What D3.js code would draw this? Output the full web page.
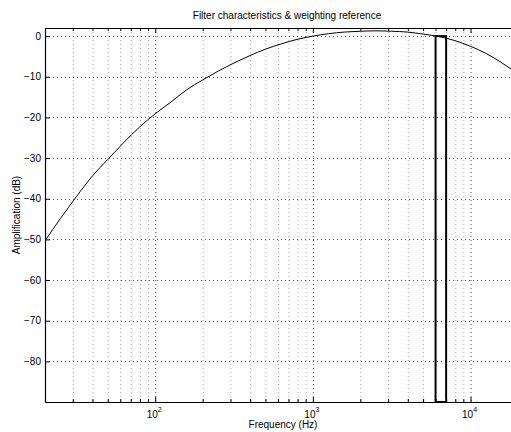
<!DOCTYPE html>
<html>
<head>
<meta charset="utf-8">
<script src="https://cdn.jsdelivr.net/npm/d3@7"></script>
<style>
  body { margin: 0; background: #fff; }
  svg { display: block; font-family: "Liberation Sans", Arial, Helvetica, sans-serif; }
</style>
</head>
<body>
<div id="chart-area"></div>
<script>
// weighting curve (Hz, dB)
var freqs = [19.95, 25.12, 31.62, 39.81, 50.12, 63.1, 79.43, 100, 125.9, 158.5, 199.5, 251.2, 316.2, 398.1, 501.2, 631, 794.3,
  1000, 1259, 1585, 1995, 2512, 3162, 3981, 5012, 6310, 7943, 10000, 12590, 15850, 19950];
var gains = [-50.4, -44.8, -39.5, -34.5, -30.3, -26.2, -22.4, -19.1, -16.2, -13.2, -10.8, -8.6, -6.6, -4.8, -3.2, -1.9, -0.8,
  0, 0.6, 1.0, 1.2, 1.3, 1.2, 1.0, 0.5, -0.1, -1.1, -2.5, -4.3, -6.6, -9.3];

// filter band (rectangle)
var bandFreqs = [6000, 7000];
var bandLevel = 0;

// axes
var xDomain = [20, 20000];
var yDomain = [-90, 2];
var yTicks = [-80, -70, -60, -50, -40, -30, -20, -10, 0];
var xMajor = [100, 1000, 10000];
var xMajorLabels = ['2', '3', '4'];
var xMinor = [30, 40, 50, 60, 70, 80, 90, 200, 300, 400, 500, 600, 700, 800, 900,
  2000, 3000, 4000, 5000, 6000, 7000, 8000, 9000];

var title = 'Filter characteristics & weighting reference';
var xTitle = 'Frequency (Hz)';
var yTitle = 'Amplification (dB)';

var W = 511, H = 432;
var margin = { top: 28, left: 45 };
var plotRight = 518, plotBottom = 402;

var svg = d3.select('#chart-area')
  .append('svg')
    .attr('width', W)
    .attr('height', H);

var x = d3.scaleLog().domain(xDomain).range([margin.left, plotRight]);
var y = d3.scaleLinear().domain(yDomain).range([plotBottom, margin.top]);

// clip so nothing pokes outside the axes
svg.append('clipPath').attr('id', 'clip')
  .append('rect')
    .attr('x', margin.left).attr('y', margin.top)
    .attr('width', plotRight - margin.left).attr('height', plotBottom - margin.top);

// grid
var grid = svg.append('g').attr('clip-path', 'url(#clip)');
grid.selectAll('.gx-minor').data(xMinor).enter()
  .append('line')
    .attr('x1', d => x(d) + 0.5).attr('x2', d => x(d) + 0.5)
    .attr('y1', margin.top).attr('y2', plotBottom)
    .attr('stroke', '#a8a8a8')
    .attr('stroke-dasharray', '1,3');
grid.selectAll('.gx-major').data(xMajor).enter()
  .append('line')
    .attr('x1', d => x(d) + 0.5).attr('x2', d => x(d) + 0.5)
    .attr('y1', margin.top).attr('y2', plotBottom)
    .attr('stroke', '#555')
    .attr('stroke-dasharray', '1,3');
grid.selectAll('.gy').data(yTicks).enter()
  .append('line')
    .attr('x1', margin.left).attr('x2', plotRight)
    .attr('y1', d => Math.round(y(d)) + 0.5).attr('y2', d => Math.round(y(d)) + 0.5)
    .attr('stroke', '#555')
    .attr('stroke-dasharray', '1,3');

// axes (ticks point inward)
var bottomMajor = d3.axisBottom(x).tickValues(xMajor).tickFormat('').tickSize(-5).tickSizeOuter(0);
var bottomMinor = d3.axisBottom(x).tickValues(xMinor).tickFormat('').tickSize(-3).tickSizeOuter(0);
var topMajor = d3.axisTop(x).tickValues(xMajor).tickFormat('').tickSize(-5).tickSizeOuter(0);
var topMinor = d3.axisTop(x).tickValues(xMinor).tickFormat('').tickSize(-3).tickSizeOuter(0);
var leftAxis = d3.axisLeft(y).tickValues(yTicks).tickFormat('').tickSize(-5).tickSizeOuter(0);

svg.append('g').attr('transform', 'translate(0,' + plotBottom + ')').call(bottomMinor);
svg.append('g').attr('transform', 'translate(0,' + plotBottom + ')').call(bottomMajor);
svg.append('g').attr('transform', 'translate(0,' + margin.top + ')').call(topMinor);
svg.append('g').attr('transform', 'translate(0,' + margin.top + ')').call(topMajor);
svg.append('g').attr('transform', 'translate(' + margin.left + ',0)').call(leftAxis);
svg.selectAll('.domain').attr('stroke', '#000').attr('stroke-width', 1.2);
svg.selectAll('.tick line').attr('stroke', '#000');

// y tick labels
svg.selectAll('.ylab').data(yTicks).enter()
  .append('text')
    .attr('x', margin.left - 4)
    .attr('y', d => y(d))
    .attr('dy', '0.35em')
    .attr('text-anchor', 'end')
    .attr('font-size', '10px')
    .text(d => d < 0 ? '\u2212' + Math.abs(d) : d);

// x tick labels 10^n
var xl = svg.selectAll('.xlab').data(xMajor).enter()
  .append('text')
    .attr('x', d => x(d) - 1)
    .attr('y', 418)
    .attr('text-anchor', 'middle')
    .attr('font-size', '10px');
xl.append('tspan').text('10');
xl.append('tspan')
  .attr('dy', -6)
  .attr('font-size', '7px')
  .text((d, i) => xMajorLabels[i]);

// curve
var line = d3.line()
  .x((d, i) => x(freqs[i]))
  .y(d => y(d))
  .curve(d3.curveNatural);

svg.append('path')
  .attr('clip-path', 'url(#clip)')
  .datum(gains)
  .attr('d', line)
  .attr('fill', 'none')
  .attr('stroke', '#000')
  .attr('stroke-width', 1);

// band rectangle
svg.append('rect')
  .attr('x', x(bandFreqs[0]))
  .attr('y', y(bandLevel))
  .attr('width', x(bandFreqs[1]) - x(bandFreqs[0]))
  .attr('height', y(yDomain[0]) - y(bandLevel))
  .attr('fill', 'none')
  .attr('stroke', '#000')
  .attr('stroke-width', 2);

// titles
svg.append('text')
  .attr('x', 287)
  .attr('y', 19)
  .attr('text-anchor', 'middle')
  .attr('font-size', '10px')
  .text(title);

svg.append('text')
  .attr('x', 283)
  .attr('y', 428)
  .attr('text-anchor', 'middle')
  .attr('font-size', '10px')
  .text(xTitle);

svg.append('text')
  .attr('transform', 'translate(20,' + (margin.top + plotBottom) / 2 + ') rotate(-90)')
  .attr('text-anchor', 'middle')
  .attr('font-size', '10px')
  .text(yTitle);
</script>
</body>
</html>
